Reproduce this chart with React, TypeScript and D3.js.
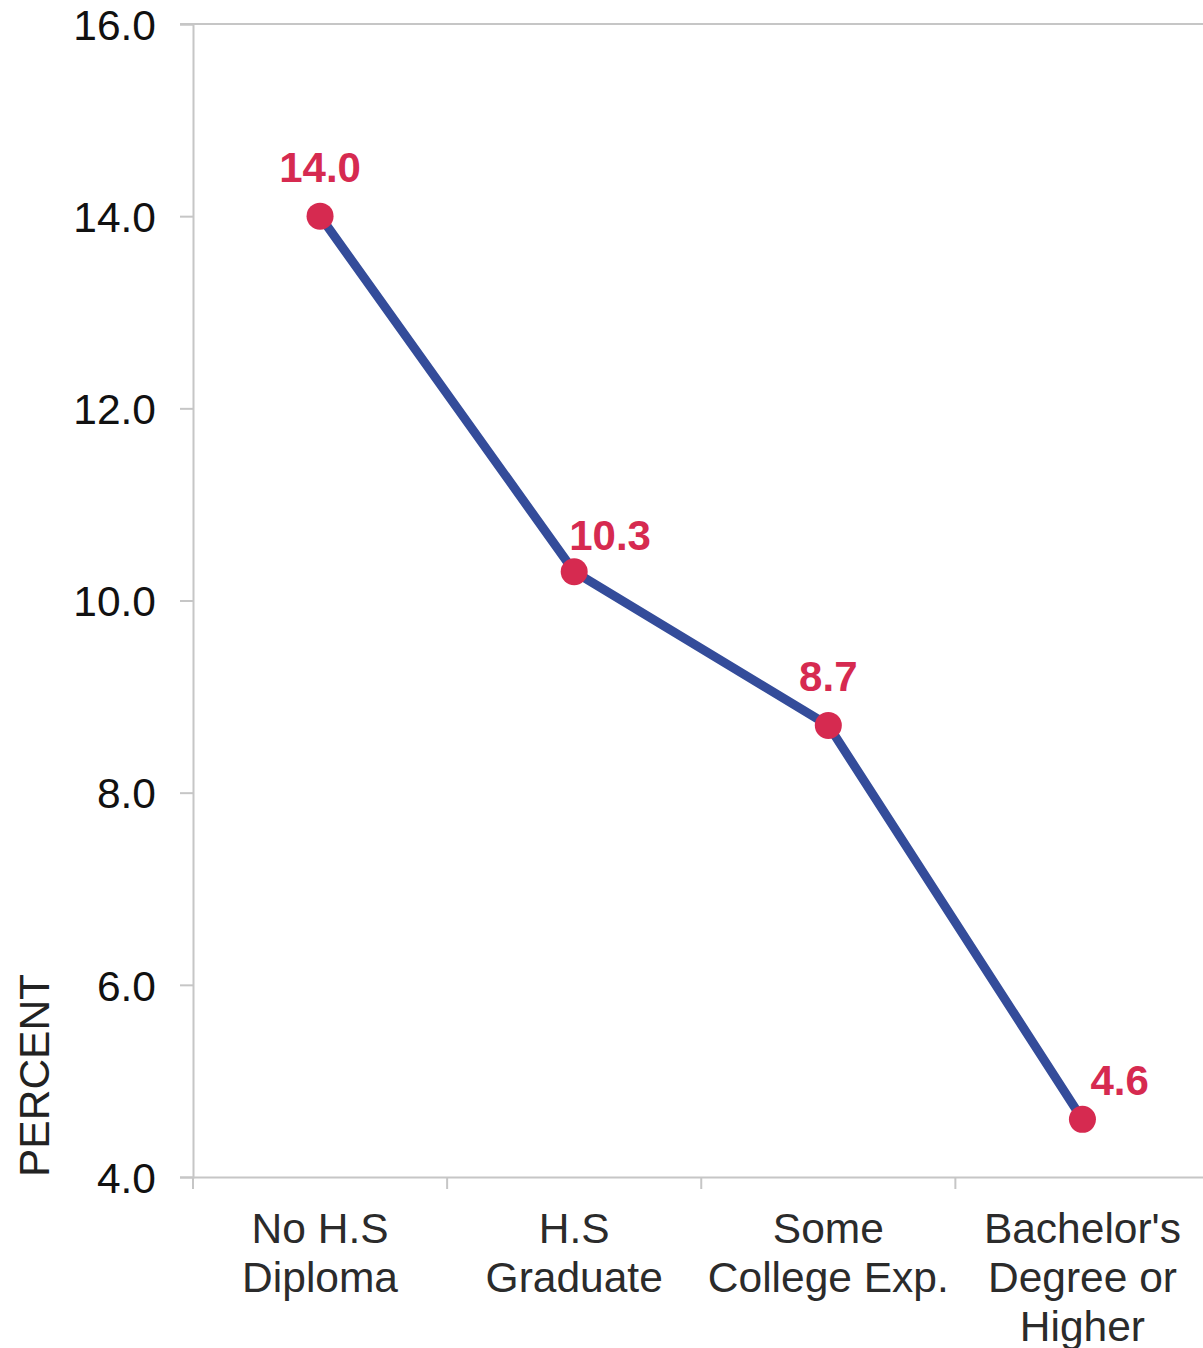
import React, { useEffect, useRef } from 'react';
import * as d3 from 'd3';

// categories (multi-line labels) and values
const categories: string[] = ['No H.S Diploma', 'H.S Graduate', 'Some College Exp.', "Bachelor's Degree or Higher"];
const categoryLines: string[][] = [
  ['No H.S', 'Diploma'],
  ['H.S', 'Graduate'],
  ['Some', 'College Exp.'],
  ["Bachelor's", 'Degree or', 'Higher'],
];
const values: number[] = [14.0, 10.3, 8.7, 4.6];
const yTicks: number[] = [4, 6, 8, 10, 12, 14, 16];

const App = () => {
  const chartRef = useRef<SVGSVGElement>(null);

  useEffect(() => {
    if (chartRef.current) {
      drawChart();
    }
  }, []);

  const drawChart = () => {
    const svg = d3.select(chartRef.current);
    svg.selectAll('*').remove();

    const width = 1203;
    const height = 1348;
    const left = 193;
    const top = 24;
    const bottom = 1177;
    const right = 1209.5;
    const axisColor = '#c6c6c6';
    const red = '#d62a50';
    const blue = '#344c9a';
    const font = '"Liberation Sans", Arial, sans-serif';

    svg.attr('width', width).attr('height', height);

    const x = d3.scaleBand<string>()
      .domain(categories)
      .range([left, right])
      .padding(0);

    const y = d3.scaleLinear()
      .domain([4, 16])
      .range([bottom, top]);

    // Y axis
    const yAxis = svg.append('g')
      .attr('transform', `translate(${left},0)`)
      .call(d3.axisLeft(y).tickValues(yTicks).tickSize(13).tickPadding(24).tickFormat(d3.format('.1f')));
    yAxis.select('.domain').attr('stroke', axisColor).attr('stroke-width', 2);
    yAxis.selectAll('.tick line').attr('stroke', axisColor).attr('stroke-width', 2);
    yAxis.selectAll('.tick text')
      .attr('fill', '#111')
      .style('font-family', font)
      .style('font-size', '42.5px')
      .attr('dy', '0.36em');

    // top border line
    svg.append('line')
      .attr('x1', left - 13)
      .attr('x2', width)
      .attr('y1', y(16))
      .attr('y2', y(16))
      .attr('stroke', axisColor)
      .attr('stroke-width', 2);

    // X axis
    const xAxis = svg.append('g')
      .attr('transform', `translate(0,${bottom})`)
      .call(d3.axisBottom(x).tickSize(0).tickFormat(() => ''));
    xAxis.select('.domain').attr('stroke', axisColor).attr('stroke-width', 2);

    // category separator ticks
    const tickXs = categories.map(c => x(c) || 0);
    svg.selectAll('.xsep')
      .data(tickXs)
      .enter()
      .append('line')
      .attr('class', 'xsep')
      .attr('x1', d => d)
      .attr('x2', d => d)
      .attr('y1', bottom)
      .attr('y2', bottom + 12)
      .attr('stroke', axisColor)
      .attr('stroke-width', 2);

    // category labels
    categories.forEach((c, i) => {
      const cx = (x(c) || 0) + x.bandwidth() / 2;
      const t = svg.append('text')
        .attr('text-anchor', 'middle')
        .attr('fill', '#2b2b2b')
        .style('font-family', font)
        .style('font-size', '42.5px');
      categoryLines[i].forEach((line, j) => {
        t.append('tspan')
          .attr('x', cx)
          .attr('y', 1243 + j * 49)
          .text(line);
      });
    });

    // y axis title
    svg.append('text')
      .attr('transform', `translate(49,${bottom}) rotate(-90)`)
      .attr('text-anchor', 'start')
      .attr('fill', '#222')
      .style('font-family', font)
      .style('font-size', '42.5px')
      .text('PERCENT');

    // line
    const line = d3.line<number>()
      .x((_, i) => (x(categories[i]) || 0) + x.bandwidth() / 2)
      .y(d => y(d));

    svg.append('path')
      .datum(values)
      .attr('fill', 'none')
      .attr('stroke', blue)
      .attr('stroke-width', 9)
      .attr('stroke-linejoin', 'round')
      .attr('d', line);

    // points
    svg.selectAll('.pt')
      .data(values)
      .enter()
      .append('circle')
      .attr('class', 'pt')
      .attr('cx', (_, i) => (x(categories[i]) || 0) + x.bandwidth() / 2)
      .attr('cy', d => y(d))
      .attr('r', 13.5)
      .attr('fill', red);

    // data labels (alternate placement like the original)
    const labelPlace = [
      { dx: 0, dy: -34, anchor: 'middle' },
      { dx: -5, dy: -22, anchor: 'start' },
      { dx: 0, dy: -34, anchor: 'middle' },
      { dx: 8, dy: -24, anchor: 'start' },
    ];
    svg.selectAll('.lbl')
      .data(values)
      .enter()
      .append('text')
      .attr('class', 'lbl')
      .attr('x', (_, i) => (x(categories[i]) || 0) + x.bandwidth() / 2 + labelPlace[i].dx)
      .attr('y', (d, i) => y(d) + labelPlace[i].dy)
      .attr('text-anchor', (_, i) => labelPlace[i].anchor)
      .attr('fill', red)
      .style('font-family', font)
      .style('font-size', '42px')
      .style('font-weight', 'bold')
      .text(d => d.toFixed(1));
  };

  return (
    <div style={{ position: 'absolute', left: 0, top: 0, background: '#fff' }}>
      <svg ref={chartRef} style={{ display: 'block' }}></svg>
    </div>
  );
};

export default App;
